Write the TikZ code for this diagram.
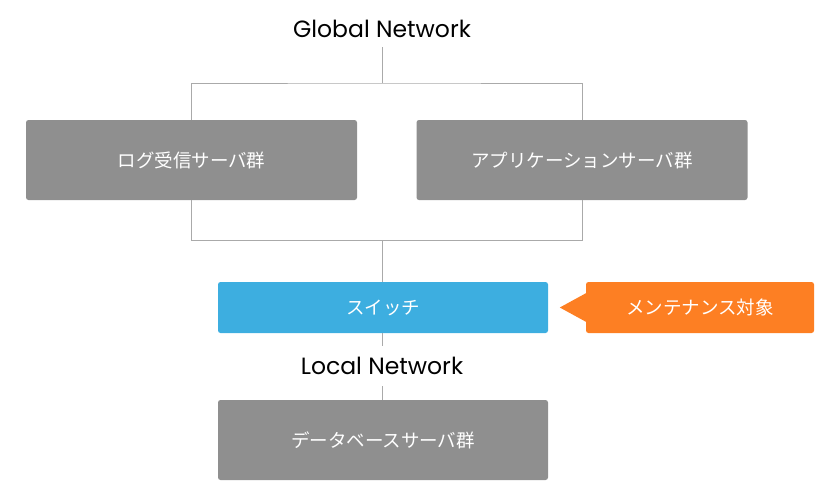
\documentclass[tikz,border=0pt]{standalone}
\usepackage{fontspec}
\setmainfont{Poppins}
\newfontfamily\jpfont{Noto Sans CJK JP}
\usepackage{xcolor}
\usepackage{tikz}
\usetikzlibrary{positioning, calc}
\definecolor{servergray}{RGB}{143,143,143}
\definecolor{switchblue}{RGB}{61,174,224}
\definecolor{maintorange}{RGB}{253,127,35}
\definecolor{wiregray}{RGB}{170,170,170}

\begin{document}
\begin{tikzpicture}[x=1pt, y=-1pt,
    serverbox/.style={rectangle, rounded corners=2.5pt, fill=servergray, text=white, inner sep=0pt,
        minimum width=331pt, minimum height=80pt, font=\jpfont\fontsize{18.5}{21}\selectfont},
    netlabel/.style={inner sep=0pt, font=\fontsize{23.5}{26}\selectfont},
    wire/.style={draw=wiregray, line width=1pt}]
    \useasboundingbox (0,0) rectangle (834,499);
            \node[netlabel, minimum height=36pt] (global) at (382,29) {Global Network};
            \node[serverbox] (logsv) at (191.5,160) {ログ受信サーバ群};
            \node[serverbox] (appsv) at (582,160) {アプリケーションサーバ群};
            \node[serverbox, fill=switchblue, minimum width=330pt, minimum height=51pt] (switch) at (383,307.5) {スイッチ};
            \node[netlabel, minimum height=40pt] (local) at (382,366) {Local Network};
            \node[serverbox, minimum width=330pt] (dbsv) at (383,440) {データベースサーバ群};
            \node[serverbox, fill=maintorange, minimum width=228pt, minimum height=51pt] (maint) at (700,307.5) {メンテナンス対象};
            \fill[maintorange] ($(maint.west)+(0.5,-14.5)$) -- ++(-26.5,14.5) -- ++(26.5,14.5) -- cycle;
            \coordinate (gtop) at (382,83);
            \coordinate (gbot) at (382,240.5);
            \draw[wire] (global) -- (gtop);
            \draw[wire] (logsv.north) |- (gtop) -| (appsv.north);
            \draw[wire] (logsv.south) |- (gbot) -| (appsv.south);
            \draw[wire] (gbot) -- (switch.north -| gbot);
            \draw[wire] (switch.south -| local) -- (local);
            \draw[wire] (local) -- (dbsv.north -| local);
        \end{tikzpicture}
\end{document}
